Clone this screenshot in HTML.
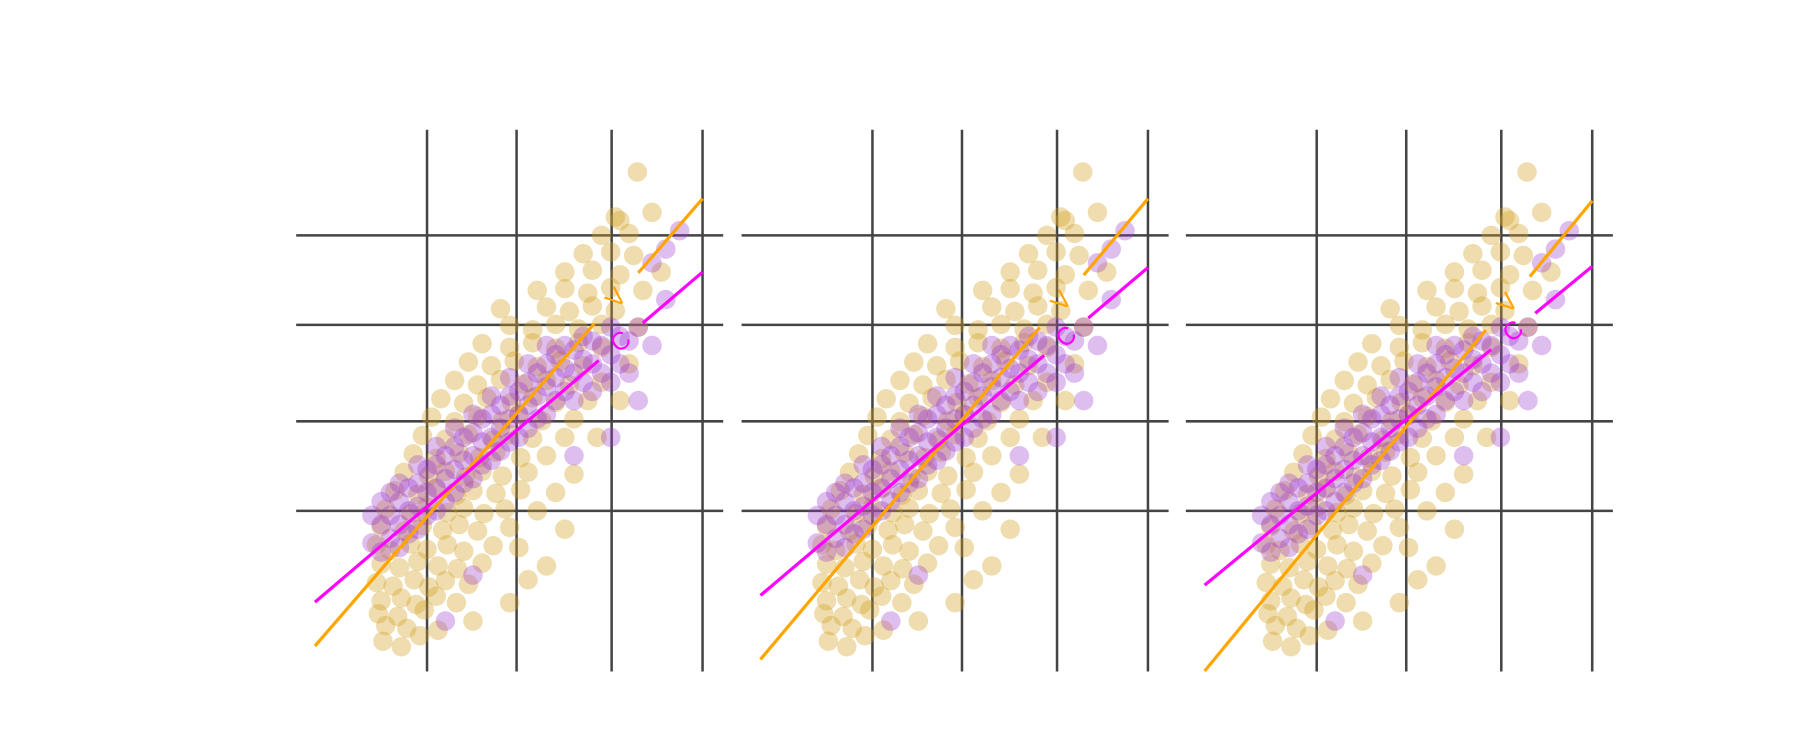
<!DOCTYPE html>
<html><head><meta charset="utf-8">
<style>html,body{margin:0;padding:0;background:#fff}svg{display:block}</style>
</head><body>
<svg id="chart" width="1800" height="750" viewBox="0 0 1568 653.33" preserveAspectRatio="none" xmlns="http://www.w3.org/2000/svg"></svg>
<script>
const xTicks=[1,1.975,3.01,4.0];
const yTicks=[1,1.975,3.025,4.0];
const goldPoints=[
[0.72,-0.48],[0.52,-0.42],[0.92,-0.36],[0.55,-0.25],[0.78,-0.28],[1.12,-0.3],[0.47,-0.12],[0.68,-0.15],[0.97,-0.08],[1.5,-0.2],
[0.5,0.02],[0.72,0.05],[0.88,-0.02],[1.1,0.07],[1.32,0.0],[1.9,0.0],[0.45,0.22],[0.63,0.18],[0.86,0.25],[1.02,0.17],[1.2,0.24],[1.45,0.2],[2.1,0.25],
[0.5,0.42],[0.7,0.38],[0.9,0.45],[1.12,0.4],[1.33,0.37],[1.6,0.43],[2.3,0.4],[0.45,0.63],[0.6,0.57],[0.82,0.64],[1.0,0.58],[1.22,0.63],[1.4,0.56],[1.72,0.62],[2.0,0.6],
[0.5,0.83],[0.75,0.78],[0.95,0.84],[1.17,0.79],[1.35,0.85],[1.55,0.78],[1.9,0.82],[2.5,0.8],[0.55,1.02],[0.82,0.97],[1.0,1.04],[1.22,0.98],[1.4,1.03],[1.62,0.97],[1.85,1.02],[2.2,1.0],
[0.65,1.22],[0.9,1.18],[1.1,1.24],[1.32,1.17],[1.5,1.22],[1.75,1.19],[2.02,1.23],[2.4,1.2],[0.75,1.42],[1.02,1.38],[1.2,1.43],[1.42,1.37],[1.6,1.43],[1.82,1.38],[2.1,1.42],[2.6,1.4],
[0.85,1.62],[1.1,1.57],[1.35,1.63],[1.57,1.58],[1.75,1.64],[2.02,1.58],[2.3,1.6],[0.95,1.82],[1.2,1.78],[1.45,1.83],[1.72,1.77],[1.9,1.83],[2.15,1.79],[2.5,1.8],[2.85,1.8],
[1.05,2.02],[1.3,1.97],[1.55,2.03],[1.82,1.98],[2.0,2.04],[2.25,1.98],[2.6,2.0],[1.15,2.22],[1.4,2.17],[1.65,2.23],[1.92,2.18],[2.15,2.23],[2.4,2.18],[2.75,2.2],[3.1,2.2],
[1.3,2.42],[1.55,2.37],[1.8,2.43],[2.05,2.38],[2.3,2.42],[2.55,2.37],[2.9,2.4],[1.45,2.62],[1.7,2.58],[1.95,2.63],[2.2,2.57],[2.45,2.63],[2.7,2.58],[3.2,2.6],
[1.6,2.82],[1.9,2.78],[2.15,2.83],[2.4,2.77],[2.65,2.83],[2.9,2.78],[1.9,3.02],[2.15,2.97],[2.4,3.03],[2.65,2.98],[2.9,3.03],[3.3,3.0],
[1.8,3.2],[2.3,3.22],[2.55,3.17],[2.8,3.23],[3.05,3.18],[2.2,3.4],[2.5,3.42],[2.75,3.37],[3.0,3.43],[3.35,3.4],[2.5,3.6],[2.8,3.62],[3.1,3.57],[3.55,3.6],
[2.7,3.8],[3.0,3.82],[3.25,3.78],[2.9,4.0],[3.2,4.02],[3.05,4.2],[3.45,4.25],[3.1,4.16],[3.29,4.69]
];
const purplePoints=[
[0.4,0.65],[0.4,0.95],[0.5,0.55],[0.5,0.85],[0.5,1.1],[0.6,0.7],[0.6,0.95],[0.6,1.2],[0.7,0.6],[0.7,0.85],[0.7,1.1],[0.7,1.3],
[0.8,0.75],[0.8,1.0],[0.8,1.25],[0.9,0.8],[0.9,1.05],[0.9,1.3],[0.9,1.5],[1.0,0.95],[1.0,1.2],[1.0,1.45],[1.1,1.0],[1.1,1.25],[1.1,1.5],[1.1,1.7],
[1.2,1.1],[1.2,1.35],[1.2,1.6],[1.3,1.2],[1.3,1.45],[1.3,1.7],[1.3,1.9],[1.4,1.3],[1.4,1.55],[1.4,1.8],[1.5,1.35],[1.5,1.6],[1.5,1.85],[1.5,2.05],
[1.6,1.5],[1.6,1.75],[1.6,2.0],[1.7,1.55],[1.7,1.8],[1.7,2.05],[1.7,2.25],[1.8,1.65],[1.8,1.9],[1.8,2.15],[1.9,1.75],[1.9,2.0],[1.9,2.25],[1.9,2.45],
[2.0,1.8],[2.0,2.05],[2.0,2.3],[2.1,1.9],[2.1,2.15],[2.1,2.4],[2.1,2.6],[2.2,2.0],[2.2,2.25],[2.2,2.5],[2.3,2.05],[2.3,2.35],[2.3,2.6],[2.3,2.8],
[2.4,2.2],[2.4,2.45],[2.4,2.7],[2.5,2.3],[2.5,2.55],[2.5,2.8],[2.6,2.2],[2.6,2.5],[2.6,2.75],[2.7,2.4],[2.7,2.65],[2.7,2.9],[2.8,2.3],[2.8,2.6],[2.8,2.85],
[2.9,2.5],[2.9,2.8],[3.0,2.4],[3.0,2.7],[3.0,3.0],[3.1,2.6],[3.1,2.9],[3.2,2.5],[3.2,2.85],[3.3,3.0],[3.3,2.2],[3.45,3.7],[3.45,2.8],[3.6,3.3],[3.6,3.85],[3.75,4.05],
[1.5,0.3],[1.2,-0.2],[2.6,1.6],[3.0,1.8]
];
const panelOffsets=[0,388,775];
const vSlope=[1.154,1.189,1.213];
const vIntercept=[-0.217,-0.357,-0.477];
const cSlope=[0.8516,0.846,0.8225];
const cIntercept=[0.1935,0.265,0.372];
const vLabelX=[3.06,3.06,3.08];
const cLabelX=[3.11,3.11,3.14];
const lineStart=-0.22, lineEnd=4.0;

const NS='http://www.w3.org/2000/svg';
const svg=document.getElementById('chart');
function mk(tag,attrs,parent){const e=document.createElementNS(NS,tag);for(const k in attrs)e.setAttribute(k,attrs[k]);(parent||svg).appendChild(e);return e;}
function xs(v,off){return off+372+(v-1)*80;}
function ys(v){return 445-(v-1)*80;}

panelOffsets.forEach((off,p)=>{
  const g=mk('g',{});
  
  
  const clip=mk('clipPath',{id:'clip'+p},g);
  mk('rect',{x:off+258,y:110,width:374,height:476},clip);
  xTicks.forEach((t,i)=>{
    const l=mk('line',{x1:xs(t,off),x2:xs(t,off),y1:113,y2:585,stroke:'#444','stroke-width':2.2},g);
    
    
  });
  yTicks.forEach((t,i)=>{
    const l=mk('line',{x1:off+258,x2:off+630,y1:ys(t),y2:ys(t),stroke:'#444','stroke-width':2.2},g);
    
    
  });
  const pts=mk('g',{'clip-path':'url(#clip'+p+')'},g);
  goldPoints.forEach(d=>{
    const c=mk('circle',{cx:xs(d[0],off),cy:ys(d[1]),r:8.5,fill:'#d4a020','fill-opacity':0.36},pts);
    
    
  });
  purplePoints.forEach(d=>{
    const c=mk('circle',{cx:xs(d[0],off),cy:ys(d[1]),r:8.5,fill:'#9932cc','fill-opacity':0.32},pts);
    
    
  });
  function fitLine(m,b,lx,color,label,name){
    const gap=0.24;
    const segs=[[lineStart,lx-gap],[lx+gap,lineEnd]];
    segs.forEach(s=>{
      const l=mk('line',{x1:xs(s[0],off),y1:ys(m*s[0]+b),x2:xs(s[1],off),y2:ys(m*s[1]+b),stroke:color,'stroke-width':2.8},pts);
      
      
    });
    const ang=-Math.atan(m)*180/Math.PI;
    const tx=xs(lx,off), ty=ys(m*lx+b);
    const t=mk('text',{x:tx,y:ty,fill:color,'font-size':22,'font-family':'Liberation Sans, sans-serif','text-anchor':'middle','dominant-baseline':'central',transform:'rotate('+ang+' '+tx+' '+ty+')'},g);
    t.textContent=label;
    
    
  }
  fitLine(vSlope[p],vIntercept[p],vLabelX[p],'#ffa500','V','v-fit');
  fitLine(cSlope[p],cIntercept[p],cLabelX[p],'#ff00ff','C','c-fit');
});
</script>
</body></html>
